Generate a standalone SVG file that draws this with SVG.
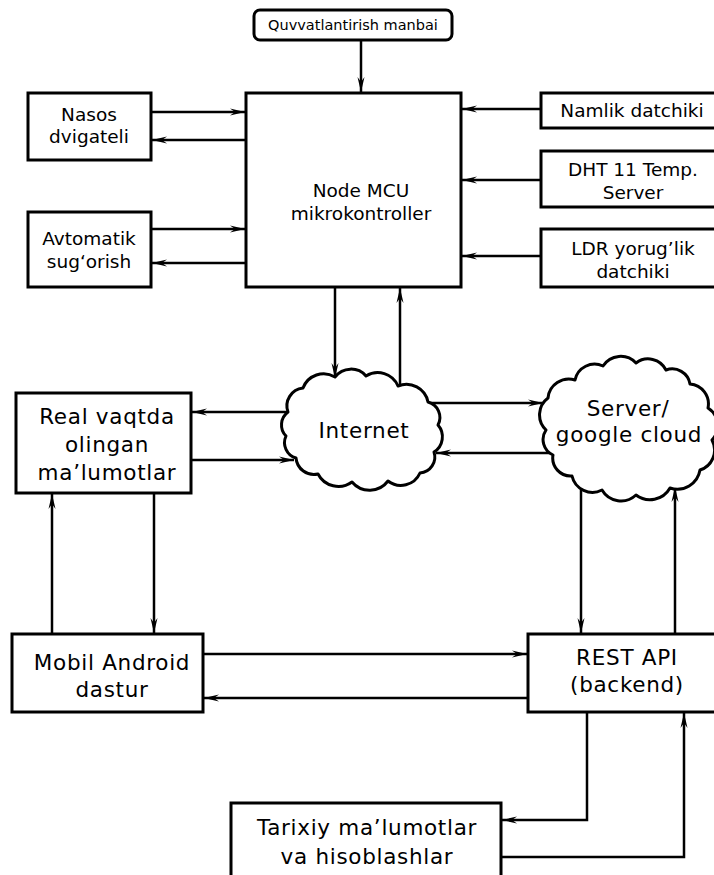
<svg xmlns="http://www.w3.org/2000/svg" width="714" height="875" viewBox="0 0 714 875">
<style>
.box{fill:#fff;stroke:#000;stroke-width:3}
.cloud{fill:#fff;stroke:#000;stroke-width:3;stroke-linejoin:round}
.c{fill:none;stroke:#000;stroke-width:2.5;marker-end:url(#ah)}
text{font-family:"DejaVu Sans","Liberation Sans",sans-serif;fill:#000;text-anchor:middle}
.t1{font-size:18.5px}
.t2{font-size:21.5px;letter-spacing:0.7px}
.t0{font-size:14.5px}
</style>
<defs>
<marker id="ah" markerUnits="userSpaceOnUse" markerWidth="16" markerHeight="10" refX="15" refY="4" orient="auto" viewBox="0 0 16 8">
<path d="M0,0.5 L15,4 L0,7.5 L5,4 Z" fill="#000"/>
</marker>
</defs>
<rect width="714" height="875" fill="#fff"/>
<g id="connectors">
<path class="c" d="M361,40 V92"/>
<path class="c" d="M151,112 H245"/>
<path class="c" d="M246,140 H152"/>
<path class="c" d="M151,229 H245"/>
<path class="c" d="M246,263 H152"/>
<path class="c" d="M541,109 H462"/>
<path class="c" d="M541,180 H462"/>
<path class="c" d="M541,256 H462"/>
<path class="c" d="M335,287 V378"/>
<path class="c" d="M400,387 V288"/>
<path class="c" d="M287,412 H192"/>
<path class="c" d="M191,460 H294"/>
<path class="c" d="M428,403 H543"/>
<path class="c" d="M551,453 H436"/>
<path class="c" d="M581,482 V633"/>
<path class="c" d="M675,634 V487"/>
<path class="c" d="M52,634 V494"/>
<path class="c" d="M154,493 V633"/>
<path class="c" d="M203,654 H527"/>
<path class="c" d="M528,698 H204"/>
<path class="c" d="M587,712 V820 H502"/>
<path class="c" d="M501,857 H684 V713"/>
</g>
<g id="power">
<rect class="box" x="254" y="10" width="198" height="30" rx="6" stroke-width="2.5"/>
<text class="t0" x="353" y="30">Quvvatlantirish manbai</text>
</g>
<g id="mcu">
<rect class="box" x="246" y="93" width="215" height="194"/>
<text class="t1" x="361" y="197">Node MCU</text>
<text class="t1" x="361" y="220">mikrokontroller</text>
</g>
<g id="nasos">
<rect class="box" x="28" y="93" width="123" height="67"/>
<text class="t1" x="89" y="121">Nasos</text>
<text class="t1" x="89" y="143">dvigateli</text>
</g>
<g id="avtomatik">
<rect class="box" x="28" y="212" width="123" height="75"/>
<text class="t1" x="89" y="245">Avtomatik</text>
<text class="t1" x="89" y="268">sug‘orish</text>
</g>
<g id="namlik">
<rect class="box" x="541" y="93" width="200" height="35"/>
<text class="t1" x="632" y="117">Namlik datchiki</text>
</g>
<g id="dht">
<rect class="box" x="541" y="151" width="200" height="56"/>
<text class="t1" x="633" y="176">DHT 11 Temp.</text>
<text class="t1" x="633" y="199">Server</text>
</g>
<g id="ldr">
<rect class="box" x="541" y="229" width="200" height="58"/>
<text class="t1" x="633" y="255">LDR yorug’lik</text>
<text class="t1" x="633" y="278">datchiki</text>
</g>
<g id="internet">
<path class="cloud" d="M288,412 A18 18 0 0 1 303,388 A22 22 0 0 1 335,377 A20 20 0 0 1 366,376 A22 22 0 0 1 398,386 A22 22 0 0 1 428,402 A16 16 0 0 1 438,425 A18 18 0 0 1 434,452 A16 16 0 0 1 420,473 A21 21 0 0 1 388,481 A23 23 0 0 1 352,482 A23 23 0 0 1 318,474 A18 18 0 0 1 296,458 A16 16 0 0 1 286,436 A16 16 0 0 1 288,412 Z"/>
<text class="t2" x="364" y="438">Internet</text>
</g>
<g id="server">
<path class="cloud" d="M548,398 A21 21 0 0 1 575,380 A20 20 0 0 1 603,366 A21 21 0 0 1 636,363 A20 20 0 0 1 666,370 A18 18 0 0 1 690,384 A20 20 0 0 1 708,408 A21 21 0 0 1 712,440 A21 21 0 0 1 700,470 A23 23 0 0 1 670,488 A23 23 0 0 1 636,495 A22 22 0 0 1 602,490 A21 21 0 0 1 572,476 A18 18 0 0 1 553,455 A17 17 0 0 1 546,430 A21 21 0 0 1 548,398 Z"/>
<text class="t2" x="628" y="416">Server/</text>
<text class="t2" x="629" y="442">google cloud</text>
</g>
<g id="realtime">
<rect class="box" x="16" y="393" width="175" height="100"/>
<text class="t2" x="107" y="424">Real vaqtda</text>
<text class="t2" x="107" y="452">olingan</text>
<text class="t2" x="107" y="480">ma’lumotlar</text>
</g>
<g id="mobil">
<rect class="box" x="12" y="634" width="191" height="78"/>
<text class="t2" x="112" y="670">Mobil Android</text>
<text class="t2" x="112" y="697">dastur</text>
</g>
<g id="rest">
<rect class="box" x="528" y="634" width="200" height="78"/>
<text class="t2" x="627" y="665">REST API</text>
<text class="t2" x="627" y="692">(backend)</text>
</g>
<g id="tarixiy">
<rect class="box" x="231" y="803" width="270" height="100"/>
<text class="t2" x="367" y="835">Tarixiy ma’lumotlar</text>
<text class="t2" x="367" y="864">va hisoblashlar</text>
</g>
</svg>
